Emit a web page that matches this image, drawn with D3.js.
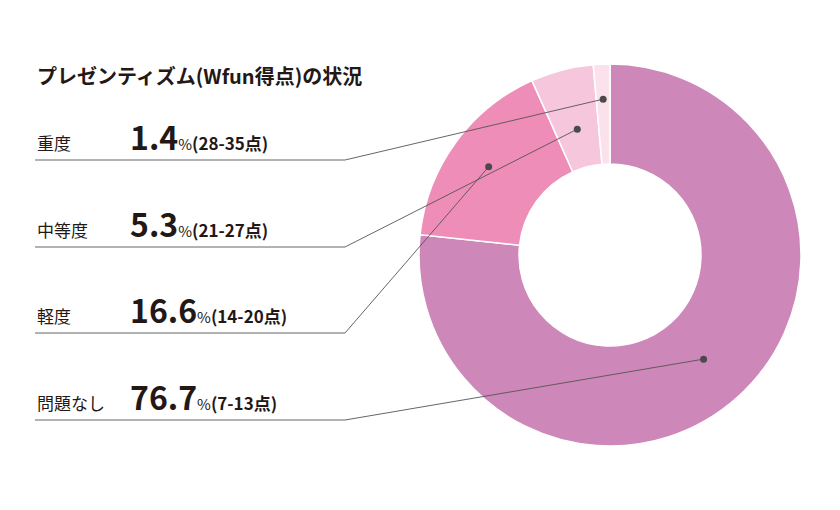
<!DOCTYPE html><html><head><meta charset="utf-8"><script src="https://cdn.jsdelivr.net/npm/d3@7"></script>
<style>body{margin:0;background:#fff}text{font-family:"Noto Sans CJK JP",sans-serif;fill:#231815}</style></head><body><svg id="c" width="840" height="510"></svg>
<script>
const categories=["問題なし","軽度","中等度","重度"];
const values=[76.7,16.6,5.3,1.4];
const ranges=["(7-13点)","(14-20点)","(21-27点)","(28-35点)"];
const colors=["#cd87b8","#ee8db8","#f6c6dc","#fae1ec"];
const title="プレゼンティズム(Wfun得点)の状況";
const svg=d3.select("#c");
const cx=610,cy=255,R=191,r=91;
const pie=d3.pie().sort(null).value(d=>d)(values);
const arc=d3.arc().innerRadius(r).outerRadius(R);
const g=svg.append("g").attr("transform",`translate(${cx},${cy})`);
g.selectAll("path").data(pie).join("path").attr("d",arc).attr("fill",(d,i)=>colors[i]).attr("stroke","#fff").attr("stroke-width",1.5);
svg.append("text").attr("x",37).attr("y",84).attr("font-size",20).attr("font-weight",700).text(title);
const rowY=[420,333,247,160];
const dotR=[150,150,128,160];
const y=d3.scaleLinear();
pie.forEach((d,i)=>{
  const a=(d.startAngle+d.endAngle)/2;
  const rr=[140,150,130,156][i];
  const px=cx+Math.sin(a)*rr,py=cy-Math.cos(a)*rr;
  const ly=rowY[i];
  svg.append("path").attr("d",`M35,${ly}H345L${px},${py}`).attr("fill","none").attr("stroke","#555").attr("stroke-width",0.9);
  svg.append("circle").attr("cx",px).attr("cy",py).attr("r",3.5).attr("fill","#4a4a4a");
  svg.append("text").attr("x",37).attr("y",ly-10).attr("font-size",17).text(categories[i]);
  const t=svg.append("text").attr("x",130).attr("y",ly-10);
  t.append("tspan").attr("font-size",32).attr("font-weight",700).text(values[i].toFixed(1));
  t.append("tspan").attr("font-size",15).text("%");
  t.append("tspan").attr("font-size",17).attr("font-weight",700).text(ranges[i]);
});
</script></body></html>
